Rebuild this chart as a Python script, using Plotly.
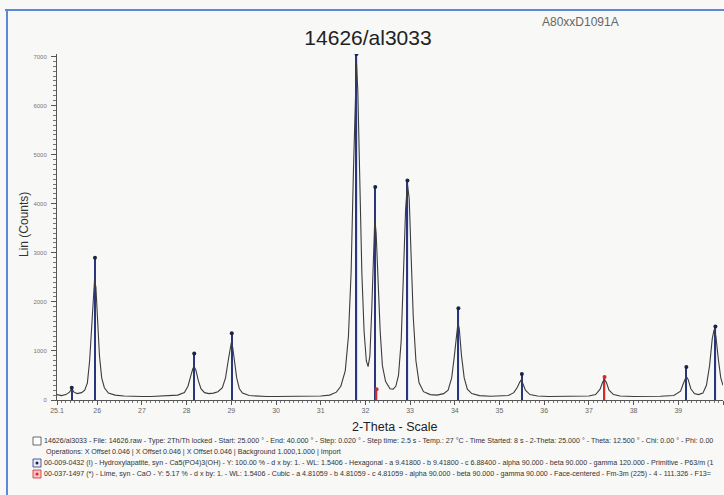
import plotly.graph_objects as go

two_theta = [25.10, 25.20, 25.30, 25.38, 25.43, 25.48, 25.55, 25.65, 25.72, 25.78,
             25.83, 25.87, 25.91, 25.94, 25.97, 26.01, 26.05, 26.10, 26.16, 26.25,
             26.40, 26.60, 26.80, 27.00, 27.20, 27.40, 27.60, 27.80, 27.95, 28.03,
             28.09, 28.14, 28.17, 28.21, 28.26, 28.32, 28.40, 28.50, 28.60, 28.70,
             28.80, 28.87, 28.93, 28.97, 29.00, 29.03, 29.07, 29.12, 29.18, 29.25,
             29.40, 29.60, 29.80, 30.00, 30.20, 30.40, 30.60, 30.80, 31.00, 31.20,
             31.35, 31.45, 31.55, 31.62, 31.68, 31.73, 31.77, 31.80, 31.83, 31.87,
             31.92, 31.97, 32.02, 32.06, 32.10, 32.14, 32.18, 32.21, 32.24, 32.28,
             32.33, 32.38, 32.45, 32.55, 32.62, 32.68, 32.74, 32.80, 32.85, 32.90,
             32.94, 32.98, 33.02, 33.07, 33.13, 33.20, 33.30, 33.45, 33.60, 33.75,
             33.85, 33.93, 33.99, 34.04, 34.07, 34.10, 34.15, 34.21, 34.28, 34.38,
             34.55, 34.80, 35.00, 35.20, 35.32, 35.40, 35.45, 35.48, 35.52, 35.58,
             35.68, 35.85, 36.10, 36.40, 36.70, 37.00, 37.15, 37.25, 37.31, 37.35,
             37.39, 37.45, 37.55, 37.70, 38.00, 38.30, 38.60, 38.90, 39.05, 39.12,
             39.18, 39.22, 39.28, 39.36, 39.45, 39.55, 39.63, 39.70, 39.76, 39.80,
             39.84, 39.90, 39.95, 40.00]
counts = [110, 90, 110, 160, 230, 160, 130, 150, 200, 350,
          800, 1500, 2200, 2450, 2300, 1600, 900, 450, 250, 140,
          100, 80, 70, 70, 70, 75, 80, 100, 150, 280,
          480, 640, 680, 600, 400, 230, 150, 130, 140, 170,
          250, 450, 800, 1050, 1170, 1080, 800, 450, 230, 140,
          90, 75, 70, 70, 70, 75, 75, 75, 80, 100,
          160, 280, 600, 1300, 2600, 4600, 6300, 6880, 6300, 4600,
          2600, 1400, 800, 680, 900, 1800, 3100, 3700, 3400, 2500,
          1400, 700, 380, 230, 220, 280, 500, 1200, 2600, 3900,
          4400, 4100, 3000, 1700, 800, 350, 170, 110, 100, 130,
          200, 450, 900, 1400, 1570, 1450, 900, 450, 220, 130,
          90, 75, 75, 90, 150, 260, 360, 400, 340, 200,
          110, 80, 70, 70, 70, 80, 110, 220, 370, 410,
          360, 200, 110, 80, 70, 70, 75, 90, 180, 350,
          480, 420, 230, 130, 110, 140, 300, 700, 1250, 1430,
          1300, 800, 450, 300]

# ---- reference patterns ----
ha_theta = [25.43, 25.95, 28.17, 29.01, 31.80, 32.22, 32.94, 34.08, 35.50, 39.18, 39.83]
ha_int = [250, 2900, 950, 1360, 7050, 4340, 4470, 1870, 530, 670, 1500]
lime_theta = [32.25, 37.35]
lime_int = [220, 470]

x_ticks = [25.1, 26, 27, 28, 29, 30, 31, 32, 33, 34, 35, 36, 37, 38, 39, 40]
x_tick_text = ["25.1", "26", "27", "28", "29", "30", "31", "32", "33", "34",
               "35", "36", "37", "38", "39", "40"]
y_ticks = [0, 1000, 2000, 3000, 4000, 5000, 6000, 7000]

title_text = "14626/al3033"
note_text = "A80xxD1091A"
legend_lines = [
    "14626/al3033 - File: 14626.raw - Type: 2Th/Th locked - Start: 25.000 \u00b0 - End: 40.000 \u00b0 - Step: 0.020 \u00b0 - Step time: 2.5 s - Temp.: 27 \u00b0C - Time Started: 8 s - 2-Theta: 25.000 \u00b0 - Theta: 12.500 \u00b0 - Chi: 0.00 \u00b0 - Phi: 0.00",
    "Operations: X Offset 0.046 | X Offset 0.046 | X Offset 0.046 | Background 1.000,1.000 | Import",
    "00-009-0432 (I) - Hydroxylapatite, syn - Ca5(PO4)3(OH) - Y: 100.00 % - d x by: 1. - WL: 1.5406 - Hexagonal - a 9.41800 - b 9.41800 - c 6.88400 - alpha 90.000 - beta 90.000 - gamma 120.000 - Primitive - P63/m (1",
    "00-037-1497 (*) - Lime, syn - CaO - Y: 5.17 % - d x by: 1. - WL: 1.5406 - Cubic - a 4.81059 - b 4.81059 - c 4.81059 - alpha 90.000 - beta 90.000 - gamma 90.000 - Face-centered - Fm-3m (225) - 4 - 111.326 - F13=",
]

W, H = 724, 495
L, R, T, B = 57, 1, 54, 95
pw, ph = W - L - R, H - T - B


def px(x):
    return (x - L) / pw


def py(y):
    return (H - B - y) / ph


FONT = "Liberation Sans, Arial, sans-serif"
bg = "#f8f8f7"

fig = go.Figure()
fig.add_trace(go.Scatter(x=two_theta, y=counts, mode="lines",
                         line=dict(color="#3c3c3c", width=1.1), hoverinfo="skip"))
fig.add_trace(go.Bar(x=ha_theta, y=ha_int, width=0.03, marker=dict(color="#2a3580", line=dict(width=0))))
fig.add_trace(go.Bar(x=lime_theta, y=lime_int, width=0.03, marker=dict(color="#d42a2a", line=dict(width=0))))
fig.add_trace(go.Scatter(x=ha_theta, y=ha_int, mode="markers",
                         marker=dict(color="#1e2440", size=4)))
fig.add_trace(go.Scatter(x=lime_theta, y=lime_int, mode="markers",
                         marker=dict(color="#d42a2a", size=4)))

P = dict(xref="paper", yref="paper", showarrow=False)
annotations = [
    dict(x=px(540), y=py(22), text=note_text, xanchor="left", yanchor="middle",
         font=dict(family=FONT, size=12, color="#666"), **P),
    dict(x=px(24), y=py(225), text="Lin (Counts)", textangle=-90, xanchor="center",
         yanchor="middle", font=dict(family=FONT, size=12, color="#333"), **P),
    dict(x=px(395), y=py(427), text="2-Theta - Scale", xanchor="center", yanchor="middle",
         font=dict(family=FONT, size=12.5, color="#222"), **P),
]
line_y = [441, 452, 463, 474]
line_x = [42, 44, 42, 42]
for txt, yy, xx in zip(legend_lines, line_y, line_x):
    annotations.append(dict(x=px(xx), y=py(yy), text=txt, xanchor="left", yanchor="middle",
                            font=dict(family=FONT, size=7.1, color="#333"), **P))

shapes = [
    dict(type="line", xref="paper", yref="paper", x0=px(5), x1=px(724), y0=py(10), y1=py(10),
         line=dict(color="#5b8ad6", width=2)),
    dict(type="line", xref="paper", yref="paper", x0=px(7), x1=px(7), y0=py(10), y1=py(495),
         line=dict(color="#5b8ad6", width=2)),
    # legend icons
    dict(type="rect", xref="paper", yref="paper", x0=px(33), x1=px(41), y0=py(445), y1=py(437),
         line=dict(color="#444", width=0.8), fillcolor="#fff"),
    dict(type="rect", xref="paper", yref="paper", x0=px(33), x1=px(41), y0=py(467), y1=py(459),
         line=dict(color="#2a3580", width=0.8), fillcolor="#e8ecf8"),
    dict(type="circle", xref="paper", yref="paper", x0=px(35.5), x1=px(38.5), y0=py(464.5), y1=py(461.5),
         line=dict(width=0), fillcolor="#1e2440"),
    dict(type="rect", xref="paper", yref="paper", x0=px(33), x1=px(41), y0=py(478), y1=py(470),
         line=dict(color="#d42a2a", width=0.8), fillcolor="#f7c4c4"),
    dict(type="circle", xref="paper", yref="paper", x0=px(35.5), x1=px(38.5), y0=py(475.5), y1=py(472.5),
         line=dict(width=0), fillcolor="#d42a2a"),
]

fig.update_layout(
    width=W, height=H,
    margin=dict(l=L, r=R, t=T, b=B),
    paper_bgcolor=bg, plot_bgcolor=bg,
    showlegend=False, barmode="overlay",
    title=dict(text=title_text, x=368 / W, xanchor="center", y=1 - 38 / H, yanchor="middle",
               font=dict(family=FONT, size=21, color="#222")),
    annotations=annotations, shapes=shapes,
    xaxis=dict(range=[25.1, 40], tickvals=x_ticks, ticktext=x_tick_text,
               showgrid=False, zeroline=False, showline=True, linecolor="#555", linewidth=1,
               ticks="outside", ticklen=4, tickcolor="#555",
               minor=dict(tick0=25.0, dtick=0.1, ticks="outside", ticklen=2, tickcolor="#777"),
               tickfont=dict(family=FONT, size=7, color="#666")),
    yaxis=dict(range=[0, 7050], tickvals=y_ticks,
               showgrid=False, zeroline=False, showline=True, linecolor="#555", linewidth=1,
               ticks="outside", ticklen=5, tickcolor="#555",
               minor=dict(tick0=0, dtick=100, ticks="outside", ticklen=3, tickcolor="#777"),
               tickfont=dict(family=FONT, size=6, color="#777"), ticklabelstandoff=3),
)

fig.write_html("out.html", config={"displayModeBar": False},
               post_script="document.body.style.margin='0';")
